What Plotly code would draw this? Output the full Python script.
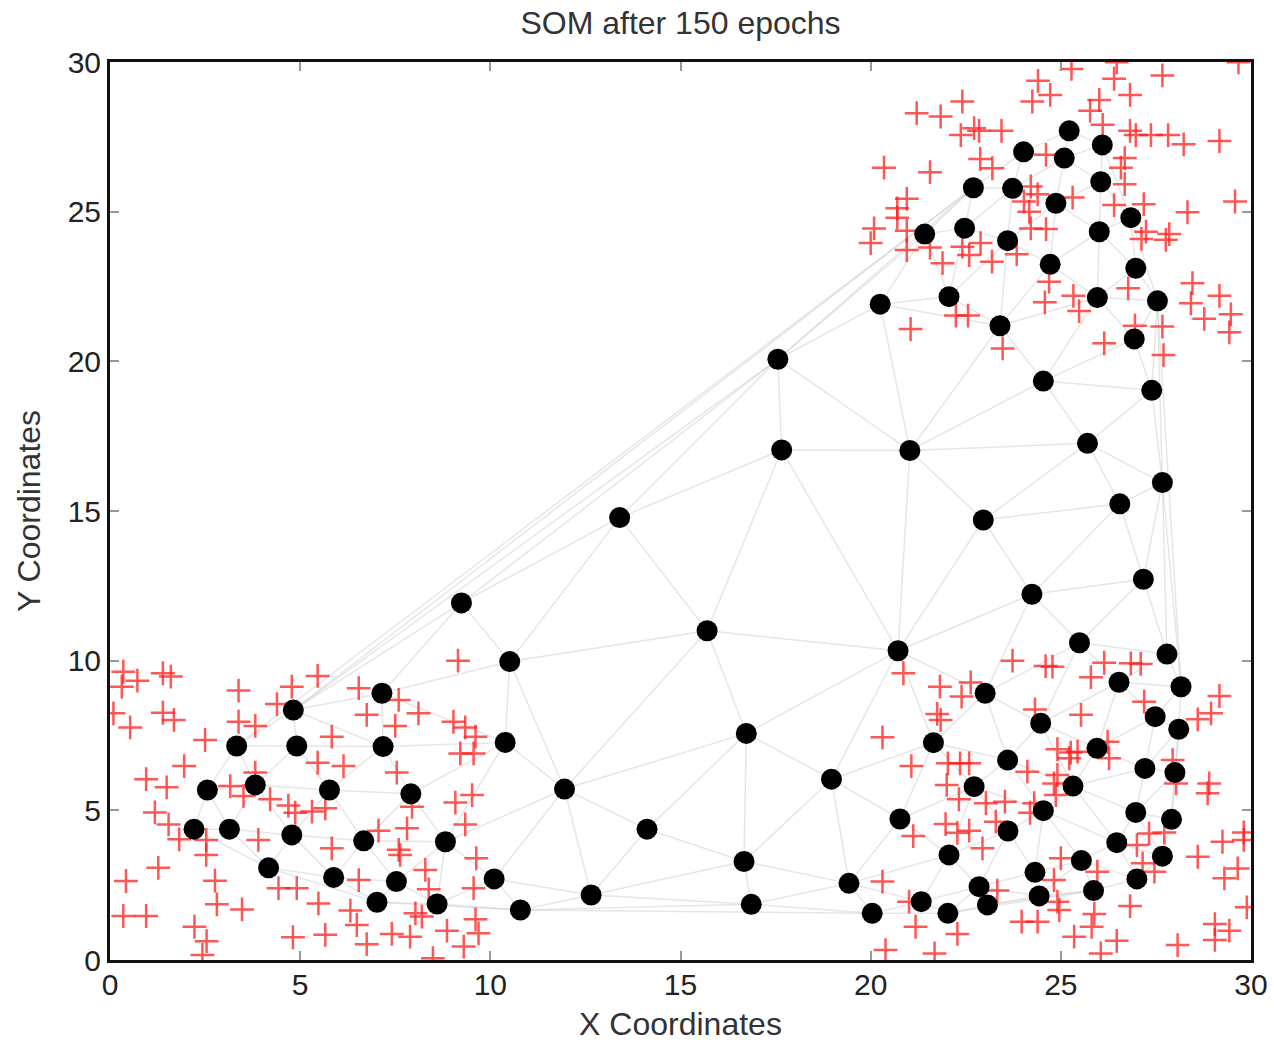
import plotly.graph_objects as go

# ---- neuron (SOM node) positions after 150 epochs ----
neuron_x = [4.82, 3.33, 4.91, 2.56, 3.82, 2.21, 3.14, 4.78, 4.17, 7.15,
            7.18, 5.77, 7.91, 6.67, 8.82, 5.88, 7.53, 7.02, 8.60, 10.10,
            10.51, 15.70, 10.39, 16.73, 11.95, 18.97, 14.12, 16.67, 12.65, 10.79,
            16.86, 19.43, 20.04, 17.56, 17.66, 13.40, 9.24, 24.54, 27.39, 21.03,
            25.70, 27.67, 26.55, 22.96, 27.17, 24.24, 25.49, 20.72, 23.01, 24.47,
            21.65, 23.60, 22.72, 24.54, 20.77, 23.61, 22.06, 24.32, 22.85, 23.07,
            24.43, 21.33, 22.03, 27.79, 26.53, 28.16, 27.48, 28.10, 25.95, 27.21,
            28.00, 25.32, 26.97, 27.91, 26.47, 27.67, 25.54, 27.00, 25.86, 24.02,
            22.70, 23.73, 24.87, 21.42, 22.47, 23.60, 24.72, 22.06, 20.25, 23.40,
            25.22, 25.09, 26.09, 26.05, 26.84, 26.01, 26.97, 25.96, 27.54, 26.93]
neuron_y = [8.35, 7.15, 7.15, 5.68, 5.85, 4.37, 4.37, 4.18, 3.08, 8.91,
            7.13, 5.68, 5.55, 3.98, 3.95, 2.76, 2.62, 1.93, 1.87, 2.71,
            9.97, 11.00, 7.27, 7.57, 5.71, 6.04, 4.37, 3.29, 2.17, 1.67,
            1.86, 2.56, 1.56, 20.07, 17.04, 14.78, 11.93, 19.34, 19.03, 17.02,
            17.26, 15.95, 15.24, 14.70, 12.72, 12.22, 10.60, 10.33, 8.91, 7.91,
            7.26, 6.68, 5.79, 4.99, 4.71, 4.31, 3.51, 2.93, 2.45, 1.84,
            2.14, 1.95, 1.56, 10.22, 9.28, 9.13, 8.13, 7.71, 7.07, 6.40,
            6.26, 5.81, 4.93, 4.70, 3.92, 3.47, 3.32, 2.71, 2.32, 27.00,
            25.80, 25.78, 25.28, 24.25, 24.45, 24.03, 23.24, 22.16, 21.91, 21.19,
            27.70, 26.79, 27.23, 26.00, 24.80, 24.33, 23.11, 22.13, 22.02, 20.75]

# ---- training data points ----
data_x = [0.35, 0.72, 0.31, 1.39, 1.60, 3.38, 4.78, 4.39, 0.09, 0.53,
          1.39, 1.68, 3.38, 3.82, 2.50, 1.95, 0.95, 1.49, 3.16, 3.82,
          3.51, 4.21, 1.18, 1.54, 1.82, 4.69, 4.87, 2.53, 2.53, 3.90,
          1.27, 0.42, 2.76, 2.81, 3.47, 4.43, 4.91, 0.35, 0.95, 2.22,
          2.54, 2.43, 4.81,
          9.15, 5.46, 6.54, 7.59, 6.75, 8.11, 7.50, 9.03, 9.34, 9.61,
          5.83, 9.21, 9.56, 5.46, 6.14, 7.54, 9.52, 9.08, 5.31, 5.66,
          7.94, 9.34, 7.81, 7.06, 9.63, 5.83, 7.59, 7.63, 8.29, 6.54,
          5.48, 9.56, 8.38, 6.32, 6.49, 8.03, 8.20, 9.61, 8.86, 9.69,
          5.66, 7.41, 7.89, 6.75, 9.30, 8.49,
          23.73, 24.60, 24.78, 20.86, 21.82, 22.39, 22.63, 24.32, 21.75, 21.84,
          20.31, 21.07, 22.03, 22.35, 22.59, 24.91, 24.12, 24.82, 22.00, 22.32,
          23.03, 23.53, 24.30, 24.19, 23.29, 21.97, 22.28, 22.59, 21.12, 22.94,
          23.33, 20.31, 21.01, 21.18, 22.28, 23.97, 24.39, 24.82, 24.91, 20.39,
          21.68,
          26.14, 26.84, 27.10, 25.79, 25.53, 27.19, 29.17, 28.95, 28.60, 26.23,
          26.27, 27.94, 25.26, 25.44, 25.22, 24.91, 24.87, 28.03, 28.90, 28.86,
          27.32, 27.72, 27.00, 27.15, 27.46, 29.25, 29.81, 29.81, 28.60, 29.65,
          29.30, 29.89, 25.00, 25.96, 24.96, 25.88, 25.81, 26.82, 25.35, 26.47,
          26.05, 28.07, 29.05, 29.43, 29.05,
          24.40, 24.72, 24.25, 22.41, 21.21, 21.84, 22.72, 22.85, 22.37, 23.44,
          22.88, 23.20, 20.35, 21.56, 20.95, 20.70, 20.70, 20.09, 20.00, 20.95,
          20.95, 21.56, 21.89, 22.41, 22.59, 22.89, 23.19, 23.84, 24.21, 24.39,
          24.17, 24.21, 24.61, 24.61, 22.24, 22.56, 21.05, 23.47, 24.58, 24.69,
          24.03,
          25.28, 26.47, 26.40, 27.67, 29.67, 26.82, 26.01, 25.77, 26.10, 26.82,
          26.97, 27.37, 27.82, 28.23, 29.17, 26.68, 26.58, 26.68, 25.31, 26.40,
          27.18, 28.33, 29.58, 27.24, 27.12, 27.85, 27.76, 25.33, 25.48, 26.77,
          28.46, 28.42, 28.77, 29.17, 29.47, 29.43, 26.95, 27.67, 26.14, 27.70]
data_y = [9.63, 9.33, 9.13, 9.58, 9.47, 9.00, 9.13, 8.55, 8.24, 7.77,
          8.26, 8.02, 7.96, 7.82, 7.35, 6.48, 6.04, 5.77, 5.81, 6.26,
          5.48, 5.37, 4.93, 4.53, 4.03, 5.16, 4.92, 4.01, 3.51, 4.01,
          3.08, 2.64, 2.65, 1.86, 1.69, 2.40, 2.40, 1.47, 1.47, 1.11,
          0.63, 0.17, 0.76,
          10.00, 9.49, 9.08, 8.69, 8.19, 8.24, 7.82, 7.96, 7.77, 7.46,
          7.46, 6.90, 6.90, 6.59, 6.48, 6.26, 5.51, 5.26, 4.96, 5.07,
          5.12, 4.53, 4.40, 4.32, 3.40, 3.73, 3.68, 3.51, 3.01, 2.67,
          1.89, 2.40, 2.36, 1.65, 1.17, 1.56, 1.45, 1.36, 0.98, 0.89,
          0.84, 0.87, 0.78, 0.53, 0.45, 0.06,
          10.00, 9.82, 9.80, 9.58, 9.13, 8.80, 9.27, 8.37, 8.22, 8.02,
          7.44, 6.48, 6.57, 6.57, 6.57, 7.04, 6.29, 5.90, 5.85, 5.37,
          5.24, 5.29, 5.24, 4.92, 4.62, 4.54, 4.25, 4.32, 4.14, 3.73,
          2.32, 2.62, 1.95, 1.11, 0.87, 1.28, 1.28, 2.67, 1.95, 0.33,
          0.22,
          9.93, 9.91, 9.89, 9.45, 8.19, 8.63, 8.82, 8.24, 8.04, 7.29,
          6.74, 6.68, 6.93, 6.96, 6.74, 6.18, 5.51, 5.90, 5.90, 5.57,
          4.23, 4.26, 3.84, 3.23, 2.95, 3.95, 4.26, 4.01, 3.45, 3.06,
          2.73, 1.76, 3.40, 2.95, 1.67, 1.54, 1.11, 1.80, 0.78, 0.64,
          0.22, 0.50, 1.20, 0.98, 0.67,
          29.37, 28.90, 28.68, 28.68, 28.29, 28.18, 27.79, 27.70, 27.56, 27.70,
          26.76, 26.45, 26.47, 26.32, 25.43, 25.11, 24.80, 24.44, 23.95, 24.36,
          23.72, 23.80, 23.28, 23.83, 23.55, 23.95, 23.33, 23.58, 25.84, 25.58,
          25.00, 24.44, 24.42, 26.90, 21.53, 21.53, 21.08, 20.43, 21.97, 22.66,
          25.34,
          29.77, 29.99, 29.44, 29.55, 29.99, 28.90, 28.73, 28.37, 27.90, 27.70,
          27.56, 27.56, 27.56, 27.25, 27.36, 26.79, 26.47, 25.92, 25.47, 25.22,
          25.25, 24.98, 25.34, 24.33, 24.09, 24.25, 24.06, 22.19, 21.68, 22.44,
          22.61, 21.94, 21.42, 22.19, 21.57, 20.97, 21.19, 21.16, 20.60, 20.21]

tick_vals = [0, 5, 10, 15, 20, 25, 30]
title_text = "SOM after 150 epochs"
x_label = "X Coordinates"
y_label = "Y Coordinates"


# ---- mesh connecting neighbouring neurons (Delaunay, Bowyer-Watson) ----
def delaunay_edges(xs, ys):
    pts = list(zip(xs, ys))
    n = len(pts)
    minx, maxx, miny, maxy = min(xs), max(xs), min(ys), max(ys)
    dm = max(maxx - minx, maxy - miny) * 20
    mx, my = (minx + maxx) / 2, (miny + maxy) / 2
    P = pts + [(mx - 2 * dm, my - dm), (mx, my + 2 * dm), (mx + 2 * dm, my - dm)]

    def circ(t):
        (ax, ay), (bx, by), (cx, cy) = P[t[0]], P[t[1]], P[t[2]]
        d = 2 * (ax * (by - cy) + bx * (cy - ay) + cx * (ay - by))
        if d == 0:
            return (0, 0, float("inf"))
        a2, b2, c2 = ax * ax + ay * ay, bx * bx + by * by, cx * cx + cy * cy
        ux = (a2 * (by - cy) + b2 * (cy - ay) + c2 * (ay - by)) / d
        uy = (a2 * (cx - bx) + b2 * (ax - cx) + c2 * (bx - ax)) / d
        return (ux, uy, (ax - ux) ** 2 + (ay - uy) ** 2)

    tris = {(n, n + 1, n + 2): circ((n, n + 1, n + 2))}
    for i in range(n):
        px, py = P[i]
        bad = [t for t, (ux, uy, r2) in tris.items() if (px - ux) ** 2 + (py - uy) ** 2 < r2]
        cnt = {}
        for t in bad:
            for e in ((t[0], t[1]), (t[1], t[2]), (t[2], t[0])):
                k = tuple(sorted(e))
                cnt[k] = cnt.get(k, 0) + 1
        for t in bad:
            del tris[t]
        for (a, b), c in cnt.items():
            if c == 1:
                t = (a, b, i)
                tris[t] = circ(t)
    edges = set()
    for t in tris:
        if max(t) < n:
            for e in ((t[0], t[1]), (t[1], t[2]), (t[2], t[0])):
                edges.add(tuple(sorted(e)))
    return sorted(edges)


edges = delaunay_edges(neuron_x, neuron_y)
ex, ey = [], []
for a, b in edges:
    ex += [neuron_x[a], neuron_x[b], None]
    ey += [neuron_y[a], neuron_y[b], None]

fig = go.Figure()
fig.add_trace(go.Scatter(x=ex, y=ey, mode="lines",
                         line=dict(color="rgba(200,200,200,0.45)", width=1.5),
                         hoverinfo="skip"))
fig.add_trace(go.Scatter(x=data_x, y=data_y, mode="markers",
                         marker=dict(symbol="cross-thin", size=17,
                                     line=dict(color="rgba(255,30,30,0.75)", width=2.5))))
fig.add_trace(go.Scatter(x=neuron_x, y=neuron_y, mode="markers",
                         marker=dict(symbol="circle", size=21, color="black",
                                     line=dict(width=0))))

font_family = "Liberation Sans, Arial, sans-serif"
axis_common = dict(range=[0, 30], tickvals=tick_vals, showgrid=False, zeroline=False,
                   showline=True, linecolor="#111", linewidth=3, mirror="ticks",
                   ticks="inside", ticklen=9, tickwidth=2, tickcolor="#999",
                   tickfont=dict(family=font_family, size=30, color="#222"),
                   automargin=False)

fig.update_layout(
    width=1274, height=1042,
    margin=dict(l=110, r=23, t=62, b=82),
    plot_bgcolor="white", paper_bgcolor="white",
    showlegend=False,
    title=dict(text=title_text, x=0.5, xref="paper", y=1 - 23 / 1042, yanchor="middle",
               font=dict(family=font_family, size=32, color="#333")),
    xaxis=dict(**axis_common, ticklabelstandoff=-4,
               title=dict(text=x_label, standoff=19,
                          font=dict(family=font_family, size=32, color="#333"))),
    yaxis=dict(**axis_common, ticklabelstandoff=0,
               title=dict(text=y_label, standoff=18,
                          font=dict(family=font_family, size=32, color="#333"))),
)

fig.write_html("out.html")
